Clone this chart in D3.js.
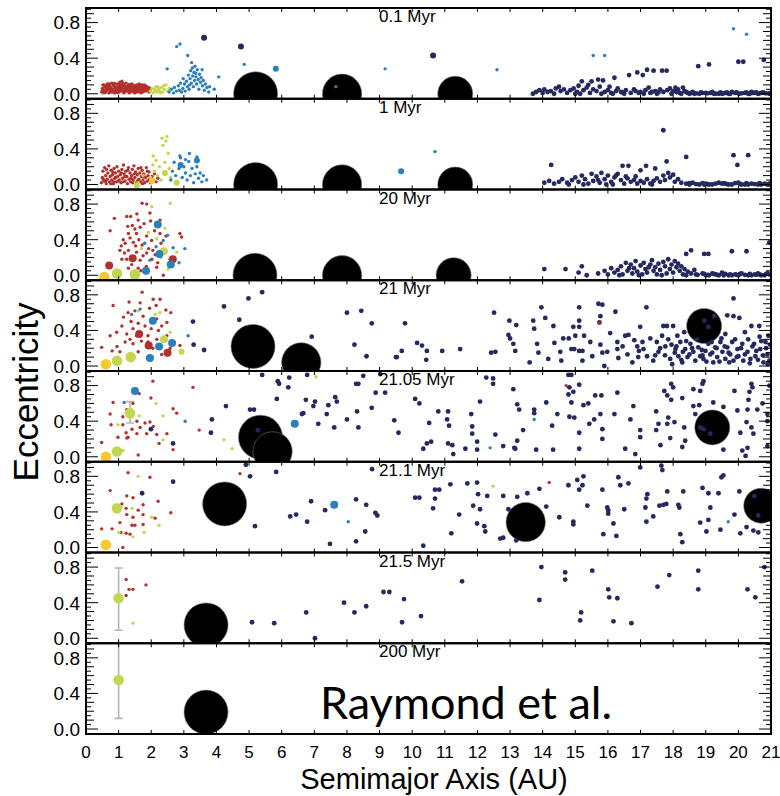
<!DOCTYPE html>
<html>
<head>
<meta charset="utf-8">
<script src="https://d3js.org/d3.v7.min.js"></script>
<style>
  body { margin: 0; background: #fff; }
  text { font-family: "Liberation Sans", Arial, sans-serif; fill: #000; }
</style>
</head>
<body>
<div id="chart"></div>
<script>
// ---------------- data (semimajor axis in AU, eccentricity) ----------------
const panelLabels = ["0.1 Myr", "1 Myr", "20 Myr", "21 Myr", "21.05 Myr", "21.1 Myr", "21.5 Myr", "200 Myr"];
const xTickLabels = [0, 1, 2, 3, 4, 5, 6, 7, 8, 9, 10, 11, 12, 13, 14, 15, 16, 17, 18, 19, 20, 21];
const eTickLabels = [0.0, 0.4, 0.8];

// giant planets: [a, e, mass in Jupiter masses]
const giants1 = [[5.2, 0, 1], [7.85, 0, 0.3], [11.32, 0, 0.1]];
const giants2 = [[5.2, 0, 1], [7.85, 0, 0.3], [11.32, 0, 0.1]];
const giants3 = [[5.18, 0, 1], [7.85, 0, 0.3], [11.27, 0, 0.1]];
const giants4 = [[5.12, 0.22, 1], [6.6, 0.04, 0.3], [18.95, 0.45, 0.1]];
const giants5 = [[5.35, 0.22, 1], [5.72, 0.06, 0.3], [19.2, 0.33, 0.1]];
const giants6 = [[4.25, 0.49, 1], [13.48, 0.285, 0.3], [20.7, 0.47, 0.1]];
const giants7 = [[3.68, 0.15, 1]];
const giants8 = [[3.68, 0.19, 1]];

// embryos: [a, e, population, mass class]
const embryos1 = [[5.82, 0.28, "b", 2], [3.62, 0.63, "n", 2], [4.75, 0.53, "n", 2], [10.64, 0.43, "n", 2]];
const embryos2 = [[9.66, 0.15, "b", 2], [3.4, 0.27, "b", 2], [2.9, 0.22, "b", 2], [2.02, 0.04, "y", 2],
  [1.56, -0.01, "g", 2], [2.78, 0.02, "g", 2], [2.42, 0.13, "g", 2]];
const embryos3 = [[0.71, 0.11, "r", 3], [1.43, 0.19, "r", 3], [2.66, 0.18, "r", 3], [2.39, 0.27, "g", 3],
  [2.2, 0.57, "b", 3], [2.25, 0.24, "b", 3], [2.6, 0.12, "b", 3], [1.84, 0.05, "b", 3],
  [0.56, -0.02, "y", 4], [0.95, 0.02, "g", 4], [1.5, 0.01, "g", 4]];
const embryos4 = [[2.93, 0.16, "g", 2], [1.63, 0.36, "r", 3], [1.92, 0.23, "r", 3], [2.5, 0.15, "r", 3],
  [2.39, 0.3, "g", 3], [2.05, 0.51, "b", 3], [2.64, 0.26, "b", 3], [2.24, 0.22, "b", 3], [1.96, 0.09, "b", 3],
  [0.61, 0.02, "y", 4], [0.95, 0.06, "g", 4], [1.37, 0.1, "g", 4]];
const embryos5 = [[1.5, 0.74, "b", 3], [6.4, 0.37, "b", 3], [0.61, 0.0, "y", 4], [0.95, 0.06, "g", 4], [1.35, 0.49, "g", 4]];
const embryos6 = [[7.61, 0.48, "b", 3], [0.61, 0.03, "y", 4], [0.95, 0.44, "g", 4]];
const embryos7 = [[1.0, 0.45, "g", 4]];
const embryos8 = [[1.0, 0.55, "g", 4]];

// eccentricity ranges: [a, eLow, eHigh]
const bars5 = [[1.35, 0.38, 0.62]];
const bars7 = [[1.0, 0.09, 0.79]];
const bars8 = [[1.0, 0.12, 1.0]];

// planetesimals, 0.1 Myr
const red1 = [[0.48,0.02],[0.5,0.06],[0.52,0.1],[0.55,0.01],[0.58,0.04],[0.6,0.08],[0.63,0.03],[0.65,0.11],[0.67,0.06],
  [0.7,0.01],[0.72,0.09],[0.74,0.04],[0.77,0.07],[0.79,0.12],[0.81,0.02],[0.84,0.05],[0.86,0.09],[0.88,0.01],[0.9,0.07],
  [0.93,0.03],[0.95,0.11],[0.97,0.05],[1.0,0.08],[1.02,0.02],[1.04,0.13],[1.06,0.06],[1.09,0.1],[1.11,0.03],[1.13,0.07],
  [1.16,0.01],[1.18,0.09],[1.2,0.05],[1.23,0.12],[1.25,0.03],[1.27,0.07],[1.3,0.1],[1.32,0.01],[1.34,0.05],[1.37,0.08],
  [1.39,0.03],[1.41,0.11],[1.44,0.06],[1.46,0.02],[1.48,0.09],[1.51,0.04],[1.53,0.07],[1.55,0.1],[1.58,0.02],[1.6,0.06],
  [1.62,0.09],[1.65,0.03],[1.67,0.07],[1.7,0.05],[1.72,0.1],[1.75,0.02],[1.77,0.06],[1.8,0.08],[1.83,0.03],[1.86,0.05],
  [1.9,0.07],[1.93,0.02],[1.97,0.04],[0.53,0.04],[0.62,0.06],[0.75,0.02],[0.83,0.1],[0.92,0.05],[1.05,0.04],[1.15,0.05],
  [1.28,0.04],[1.36,0.02],[1.45,0.08],[1.57,0.05],[1.68,0.01],[1.78,0.04],[0.69,0.05],[0.98,0.02],[1.22,0.08],[1.5,0.01],
  [1.63,0.11],[1.1,0.14],[0.57,0.08],[0.85,0.03],[1.4,0.04],[1.73,0.07],
  [0.51,0.035],[0.59,0.015],[0.66,0.085],[0.73,0.065],[0.8,0.045],[0.87,0.115],[0.94,0.075],[1.01,0.105],[1.07,0.085],
  [1.14,0.115],[1.21,0.025],[1.29,0.065],[1.35,0.105],[1.42,0.045],[1.49,0.065],[1.56,0.085],[1.64,0.045],[1.71,0.025],
  [1.79,0.1],[1.85,0.085],[1.91,0.045],[0.56,0.095],[0.71,0.11],[0.96,0.015],[1.19,0.035],[1.33,0.085],[1.54,0.03],
  [1.69,0.095],[1.81,0.055],[1.95,0.065]];
const green1 = [[1.97,0.03],[2.02,0.06],[2.06,0.01],[2.1,0.05],[2.14,0.08],[2.18,0.02],[2.22,0.05],[2.26,0.03],[2.3,0.07],
  [2.35,0.02],[2.4,0.05],[2.45,0.1],[2.5,0.03],[2.55,0.06],[2.12,0.03],[2.28,0.01],[2.38,0.09],[2.2,0.08]];
const blue1 = [[2.55,0.02],[2.62,0.05],[2.68,0.01],[2.71,0.07],[2.77,0.03],[2.83,0.09],[2.86,0.04],[2.93,0.02],[2.97,0.06],
  [3.02,0.11],[3.04,0.03],[3.08,0.14],[3.11,0.08],[3.14,0.21],[3.16,0.05],[3.19,0.17],[3.21,0.26],[3.23,0.12],[3.26,0.29],
  [3.27,0.2],[3.29,0.08],[3.31,0.24],[3.33,0.15],[3.34,0.31],[3.37,0.19],[3.39,0.11],[3.41,0.27],[3.44,0.16],[3.46,0.05],
  [3.48,0.22],[3.51,0.13],[3.53,0.18],[3.57,0.09],[3.6,0.15],[3.63,0.04],[3.66,0.11],[3.71,0.07],[3.76,0.02],[3.79,0.08],
  [3.24,0.35],[3.12,0.43],[2.78,0.53],[2.88,0.56],[2.49,0.28],[3.56,0.27],[4.07,0.19],[3.93,0.05],[4.85,0.33],[7.66,0.08],
  [9.17,0.28],[12.6,0.27],[15.55,0.43],[15.9,0.43],[19.85,0.73],[20.25,0.67],[2.98,0.17],[3.36,0.23],[3.18,0.1],[2.9,0.12]];
const navy1 = [[13.7,0.0],[13.8,0.02],[13.9,0.04],[14.0,0.01],[14.05,0.05],[14.15,0.02],[14.25,0.03],[14.35,0.0],[14.5,0.08],
  [14.55,0.03],[14.65,0.05],[14.75,0.01],[14.85,0.04],[14.95,0.06],[15.05,0.02],[15.1,0.09],[15.2,0.14],[15.25,0.04],
  [15.35,0.07],[15.45,0.01],[15.5,0.14],[15.55,0.05],[15.65,0.03],[15.7,0.16],[15.75,0.08],[15.85,0.15],[15.9,0.02],
  [16.0,0.04],[16.1,0.01],[16.2,0.18],[16.25,0.03],[16.4,0.02],[16.55,0.04],[16.65,0.21],[16.7,0.01],[16.85,0.03],
  [16.9,0.24],[17.0,0.02],[17.07,0.21],[17.15,0.04],[17.2,0.27],[17.3,0.01],[17.4,0.26],[17.45,0.03],[17.6,0.05],
  [17.66,0.26],[17.7,0.02],[17.8,0.26],[17.82,0.04],[17.9,0.06],[18.0,0.03],[18.07,0.07],[18.15,0.05],[18.2,0.01],
  [18.3,0.07],[18.35,0.03],[18.45,0.01],[18.6,0.02],[18.77,0.31],[18.8,0.0],[19.0,0.01],[19.1,0.33],[19.2,0.02],
  [19.4,0.0],[19.6,0.01],[19.8,0.02],[20.0,0.36],[20.02,0.0],[20.15,0.36],[20.2,0.01],[20.4,0.02],[20.6,0.0],
  [20.78,0.38],[20.8,0.01],[20.95,0.0],[16.3,0.06],[16.8,0.05],[15.0,0.0],[15.8,0.0],[16.5,0.0],[17.5,0.0],[18.5,0.0],
  [19.3,0.0],[19.9,0.01],[20.5,0.01],[14.4,0.06],[17.25,0.07],[15.4,0.1],[16.05,0.08],[18.9,0.01],
  [19.5,0.0],[20.3,0.0],[20.7,0.01],[18.65,0.0],[19.7,0.0],[17.35,0.02],[16.15,0.0],[15.15,0.0],
  [18.55,0.01],[18.7,0.005],[18.85,0.015],[19.05,0.005],[19.15,0.01],[19.25,0.0],[19.45,0.015],[19.55,0.005],
  [19.65,0.015],[19.75,0.0],[19.95,0.015],[20.1,0.005],[20.25,0.015],[20.35,0.0],[20.45,0.01],[20.55,0.015],
  [20.65,0.005],[20.75,0.015],[20.85,0.005],[20.98,0.01],[17.55,0.015],[17.95,0.0],[18.1,0.02],[18.25,0.0],[18.4,0.02],
  [16.45,0.015],[16.95,0.01],[17.1,0.0]];

// planetesimals, 1 Myr
const red2 = [[0.47,0.02],[0.5,0.08],[0.52,0.15],[0.55,0.04],[0.57,0.19],[0.6,0.1],[0.62,0.01],[0.65,0.06],[0.67,0.13],
  [0.7,0.21],[0.72,0.03],[0.74,0.09],[0.77,0.16],[0.79,0.05],[0.81,0.11],[0.84,0.01],[0.86,0.18],[0.88,0.07],[0.9,0.13],
  [0.93,0.03],[0.95,0.2],[0.97,0.09],[1.0,0.15],[1.02,0.05],[1.05,0.11],[1.07,0.02],[1.1,0.17],[1.12,0.07],[1.15,0.22],
  [1.17,0.12],[1.2,0.04],[1.22,0.15],[1.25,0.09],[1.27,0.01],[1.3,0.19],[1.32,0.06],[1.35,0.13],[1.37,0.03],[1.4,0.1],
  [1.42,0.17],[1.45,0.05],[1.47,0.21],[1.5,0.08],[1.52,0.14],[1.55,0.02],[1.57,0.11],[1.6,0.18],[1.62,0.06],[1.65,0.13],
  [1.67,0.03],[1.7,0.09],[1.72,0.16],[1.75,0.05],[1.77,0.12],[1.8,0.02],[1.83,0.08],[1.85,0.19],[1.88,0.04],[1.9,0.1],
  [1.93,0.14],[1.95,0.06],[1.98,0.02],[2.02,0.09],[2.06,0.05],[2.1,0.12],[2.15,0.03],[2.2,0.07],[0.53,0.06],[0.63,0.17],
  [0.76,0.01],[0.82,0.14],[0.91,0.08],[0.99,0.04],[1.08,0.13],[1.19,0.09],[1.28,0.16],[1.38,0.07],[1.48,0.12],
  [1.58,0.04],[1.68,0.19],[1.78,0.09],[1.88,0.15],[0.6,0.04],[0.85,0.03],[1.13,0.03],[1.43,0.02],[1.73,0.01]];
const green2 = [[2.33,0.52],[2.48,0.54],[2.45,0.49],[2.06,0.32],[2.36,0.44],[2.52,0.35],[1.98,0.08],[2.1,0.15],[2.2,0.1],
  [2.25,0.2],[2.3,0.05],[2.4,0.12],[2.42,0.25],[2.55,0.18],[2.6,0.08],[2.05,0.22],[2.15,0.27],[1.6,0.02],[1.75,0.1]];
const blue2 = [[2.6,0.05],[2.65,0.15],[2.7,0.25],[2.75,0.1],[2.8,0.02],[2.85,0.18],[2.9,0.3],[2.95,0.08],[3.0,0.2],
  [3.05,0.13],[3.1,0.05],[3.15,0.26],[3.2,0.1],[3.25,0.18],[3.3,0.02],[3.35,0.12],[3.4,0.2],[3.45,0.07],[3.5,0.13],
  [3.55,0.03],[3.6,0.1],[3.7,0.05],[2.88,0.32],[3.17,0.35],[10.7,0.37],[3.4,0.31],[3.05,0.28]];
const navy2 = [[17.7,0.61],[18.4,0.31],[19.85,0.33],[20.3,0.33],[19.97,0.22],[14.26,0.22],[16.45,0.21],[16.63,0.21],
  [17.0,0.16],[17.17,0.21],[17.45,0.18],[17.8,0.26],
  [14.05,0.02],[14.2,0.04],[14.35,0.01],[14.5,0.03],[14.6,0.06],[14.75,0.02],[14.9,0.05],[15.0,0.08],[15.1,0.03],
  [15.2,0.1],[15.3,0.06],[15.4,0.01],[15.5,0.12],[15.55,0.04],[15.65,0.09],[15.75,0.02],[15.8,0.13],[15.9,0.06],
  [16.0,0.1],[16.1,0.03],[16.2,0.08],[16.3,0.12],[16.4,0.05],[16.5,0.01],[16.6,0.07],[16.7,0.03],[16.8,0.05],[16.9,0.01],
  [17.0,0.04],[17.1,0.02],[17.2,0.06],[17.3,0.01],[17.4,0.04],[17.5,0.07],[17.6,0.03],[17.7,0.1],[17.75,0.05],
  [17.85,0.13],[17.9,0.08],[18.0,0.11],[18.05,0.03],[18.15,0.06],[18.25,0.02],[18.4,0.01],[18.6,0.02],[18.8,0.0],
  [19.0,0.01],[19.2,0.0],[19.4,0.02],[19.6,0.01],[19.8,0.0],[20.0,0.02],[20.2,0.0],[20.4,0.01],[20.6,0.0],[20.8,0.01],
  [20.95,0.0],[15.25,0.0],[15.95,0.0],[16.55,0.09],[17.35,0.0],[18.5,0.0],[19.1,0.0],[19.7,0.0],[20.3,0.0],[20.9,0.0],
  [15.7,0.05],[16.15,0.0],[16.85,0.09],[14.8,0.0],[18.95,0.0],[19.5,0.01],[20.1,0.0],[20.7,0.0],[16.25,0.1],
  [18.5,0.015],[18.7,0.005],[18.9,0.015],[19.05,0.005],[19.3,0.01],[19.55,0.015],[19.65,0.005],[19.9,0.015],
  [20.05,0.005],[20.25,0.015],[20.5,0.005],[20.65,0.015],[20.85,0.005],[20.98,0.015]];

// planetesimals, 20 Myr
const red3 = [[1.72,0.81],[1.86,0.8],[1.25,0.66],[1.37,0.66],[1.56,0.69],[0.87,0.64],[1.6,0.62],[1.96,0.7],[2.27,0.62],
  [0.74,0.5],[1.42,0.56],[1.66,0.54],[1.3,0.47],[1.55,0.47],[1.86,0.44],[1.14,0.4],[1.45,0.37],[1.72,0.34],[2.01,0.39],
  [2.27,0.47],[2.88,0.47],[2.93,0.43],[1.04,0.28],[1.3,0.28],[1.55,0.26],[1.86,0.25],[1.1,0.18],[1.25,0.18],[1.66,0.17],
  [2.02,0.18],[2.58,0.18],[1.3,0.08],[1.6,0.08],[2.17,0.09],[2.37,0.0],[0.95,0.03],[1.2,0.36],[1.5,0.52],[1.78,0.58],
  [2.1,0.5],[1.35,0.42],[1.62,0.4],[1.92,0.3],[2.12,0.23],[1.18,0.25],[1.48,0.2],[1.75,0.22],[2.3,0.36],[1.4,0.12],
  [1.85,0.1],[2.05,0.28],[1.52,0.33],[1.08,0.33],[2.2,0.14],[1.68,0.05],[1.98,0.61],[1.28,0.55],[2.45,0.44]];
const green3 = [[2.02,0.77],[2.58,0.81],[2.42,0.53],[2.17,0.41],[2.78,0.26],[1.92,0.48],[2.3,0.2],[1.7,0.3],[2.52,0.07]];
const blue3 = [[3.03,0.3],[2.67,0.31],[1.96,0.17],[2.37,0.39],[2.5,0.45],[2.15,0.32],[2.85,0.14],[1.8,0.36]];
const navy3 = [[14.05,0.07],[14.7,0.07],[15.1,0.03],[15.2,0.1],[15.35,0.0],[18.4,0.24],[18.55,0.28],[18.95,0.24],
  [19.08,0.24],[19.8,0.27],[20.25,0.27],[20.95,0.37],
  [15.7,0.02],[15.9,0.05],[16.0,0.01],[16.1,0.08],[16.2,0.03],[16.3,0.06],[16.4,0.1],[16.45,0.01],[16.55,0.14],
  [16.6,0.05],[16.7,0.12],[16.75,0.02],[16.8,0.08],[16.85,0.16],[16.9,0.04],[17.0,0.11],[17.05,0.01],[17.1,0.14],
  [17.15,0.07],[17.2,0.03],[17.3,0.12],[17.35,0.17],[17.4,0.05],[17.45,0.09],[17.5,0.01],[17.55,0.13],[17.6,0.06],
  [17.7,0.15],[17.75,0.1],[17.8,0.02],[17.85,0.18],[17.9,0.07],[17.95,0.12],[18.0,0.03],[18.05,0.16],[18.1,0.09],
  [18.15,0.13],[18.2,0.05],[18.25,0.1],[18.3,0.01],[18.35,0.07],[18.45,0.04],[18.55,0.02],[18.7,0.01],[18.9,0.02],
  [19.1,0.0],[19.3,0.01],[19.5,0.03],[19.7,0.0],[19.9,0.01],[20.1,0.02],[20.3,0.0],[20.5,0.01],[20.7,0.0],[20.9,0.02],
  [16.35,0.0],[16.95,0.0],[17.65,0.0],[18.4,0.0],[19.2,0.02],[19.8,0.0],[20.6,0.02],[17.25,0.09],[16.65,0.08],
  [18.65,0.06],[19.55,0.0],[20.8,0.0],[19.0,0.0],[19.4,0.0],[20.0,0.0],[20.4,0.0],
  [18.75,0.005],[18.95,0.015],[19.05,0.005],[19.25,0.015],[19.35,0.005],[19.6,0.015],[19.75,0.01],[19.95,0.005],
  [20.05,0.015],[20.2,0.005],[20.35,0.015],[20.55,0.005],[20.65,0.01],[20.85,0.015],[20.98,0.005]];

// planetesimals, 21 Myr
const red4 = [[1.72,0.83],[0.83,0.68],[1.32,0.72],[1.66,0.71],[2.06,0.75],[2.27,0.75],[2.15,0.68],[2.45,0.63],[1.29,0.6],
  [1.75,0.56],[2.17,0.53],[2.48,0.49],[1.1,0.45],[1.44,0.42],[1.81,0.45],[2.32,0.45],[0.94,0.38],[1.25,0.36],[1.55,0.34],
  [1.9,0.34],[2.48,0.34],[0.74,0.34],[1.2,0.27],[1.44,0.25],[1.9,0.27],[2.17,0.3],[2.88,0.23],[0.8,0.17],[1.04,0.16],
  [1.6,0.16],[2.32,0.13],[0.48,0.21],[2.58,0.2],[1.38,0.5],[1.6,0.48],[2.0,0.42],[1.15,0.55],[1.95,0.65],[2.22,0.4],
  [1.7,0.28],[1.35,0.3],[2.05,0.2],[0.95,0.22],[1.5,0.62],[2.6,0.6],[15.74,0.48]];
const green4 = [[2.12,0.58],[2.27,0.6],[1.6,0.62],[2.58,0.38]];
const blue4 = [[3.13,0.34],[1.66,0.64],[1.4,0.58]];
const navy4 = [[3.28,0.5],[3.3,0.24],[3.62,0.18],[4.23,0.67],[4.7,0.52],[4.98,0.76],[5.4,0.83],[6.92,0.33],[8.0,0.6],
  [8.44,0.62],[8.76,0.48],[8.23,0.24],[8.6,0.11],[9.53,0.1],
  [9.78,0.48],[9.5,0.1],[9.68,0.17],[10.15,0.26],[10.3,0.23],[10.45,0.17],[10.43,0.07],[10.92,0.17],[11.47,0.19],
  [12.42,0.15],[12.55,0.16],[12.51,0.6],[12.98,0.51],[13.19,0.46],[12.95,0.35],[13.0,0.31],[13.1,0.25],[13.16,0.17],
  [13.6,0.04],[13.71,0.51],[13.74,0.42],[13.96,0.66],[14.08,0.54],[13.83,0.25],[13.87,0.15],[14.17,0.08],[14.33,0.45],
  [14.36,0.26],[14.54,0.16],[14.57,0.06],[14.63,0.31],[14.8,0.31],[14.88,0.19],[14.94,0.44],[14.97,0.19],[15.0,0.34],
  [15.12,0.66],[15.12,0.51],[15.12,0.17],[15.22,0.17],[15.22,0.06],[15.12,0.44],[15.27,0.34],[15.46,0.27],[15.52,0.11],
  [15.71,0.7],[15.83,0.69],[15.77,0.56],[15.74,0.49],[15.77,0.24],[15.83,0.15],[15.89,0.0],[15.98,0.16],[16.07,0.37],
  [16.23,0.61],[16.29,0.27],[16.29,0.19],[16.32,0.09],[16.53,0.34],[16.63,0.35],[16.6,0.13],[16.75,0.04],[16.81,0.29],
  [16.9,0.22],[16.93,0.1],[16.99,0.44],[17.06,0.27],[17.18,0.66],[17.09,0.19],[17.2,0.11],[17.3,0.31],[17.39,0.06],
  [17.5,0.27],[17.55,0.16],[17.66,0.34],[17.7,0.45],[17.81,0.45],[17.76,0.22],[17.85,0.3],[17.91,0.08],[17.97,0.02],
  [18.0,0.45],[18.07,0.19],[18.13,0.34],[18.16,0.11],[18.22,0.27],[18.28,0.04],[18.34,0.38],[18.37,0.19],[18.44,0.1],
  [18.53,0.25],[18.62,0.16],[18.68,0.06],[18.77,0.21],[18.83,0.11],[18.93,0.08],[18.99,0.17],[19.08,0.25],[19.14,0.13],
  [19.23,0.04],[19.29,0.21],[19.35,0.1],[19.45,0.27],[19.51,0.16],[19.6,0.08],[19.66,0.21],[19.75,0.13],[19.81,0.27],
  [19.85,0.06],[19.97,0.19],[20.0,0.11],[20.12,0.25],[20.15,0.06],[20.28,0.16],[20.37,0.08],[20.4,0.45],[20.43,0.22],
  [20.52,0.11],[20.64,0.45],[20.67,0.19],[20.77,0.04],[20.83,0.27],[20.89,0.13],[20.92,0.34],[20.95,0.06],
  [19.85,0.76],[19.66,0.57],[19.85,0.56],[20.03,0.54],[19.26,0.56],[19.08,0.44],[18.96,0.51],
  [17.6,0.2],[17.75,0.12],[17.95,0.24],[18.05,0.15],[18.25,0.07],[18.4,0.28],[18.5,0.13],[18.58,0.2],[18.72,0.3],
  [18.88,0.18],[19.02,0.05],[19.18,0.27],[19.2,0.15],[19.33,0.2],[19.42,0.05],[19.48,0.31],[19.58,0.22],[19.7,0.15],
  [19.72,0.04],[19.9,0.3],[19.95,0.1],[20.08,0.2],[20.2,0.13],[20.3,0.3],[20.35,0.03],[20.48,0.25],[20.55,0.17],
  [20.6,0.07],[20.7,0.28],[20.75,0.12],[20.85,0.2],[20.9,0.02],[20.97,0.24],[18.1,0.22],[18.9,0.12],[19.6,0.36],
  [20.2,0.38],[17.45,0.12],[16.95,0.17],[16.45,0.22],[20.65,0.33],[18.3,0.16]];

// planetesimals, 21.05 Myr
const red5 = [[2.05,0.85],[3.28,0.78],[1.63,0.71],[1.99,0.66],[0.83,0.61],[1.44,0.6],[1.25,0.53],[0.74,0.48],[1.13,0.45],
  [1.56,0.4],[1.81,0.38],[1.96,0.39],[0.77,0.36],[1.13,0.36],[1.41,0.31],[1.66,0.33],[2.06,0.34],[1.23,0.27],[1.56,0.26],
  [1.86,0.26],[2.17,0.25],[2.48,0.26],[1.29,0.22],[1.25,0.21],[0.98,0.22],[0.48,0.16],[2.24,0.15],[2.67,0.08],
  [1.6,0.02],[2.67,0.54],[2.78,0.49],[3.47,0.3],[14.72,0.8]];
const green5 = [[1.63,0.46],[2.15,0.6],[2.36,0.46],[0.98,0.36],[2.36,0.19],[4.23,0.19],[4.48,0.09],[1.13,0.07],[7.05,0.9]];
const blue5 = [[1.17,0.61],[3.04,0.4],[13.74,0.42],[12.39,0.1]];
const navy5 = [[1.99,0.31],[2.67,0.15],[3.86,0.42],[3.83,0.27],[4.29,0.57],[5.03,0.53],[5.15,0.53],[5.27,0.3],[5.4,0.92],
  [5.88,0.85],[5.92,0.82],[5.85,0.65],[6.2,0.78],[6.23,0.89],[6.62,0.48],[6.66,0.49],[6.74,0.64],[6.78,0.92],[6.97,0.57],
  [7.02,0.62],[7.12,0.37],[7.43,0.58],[7.38,0.48],[7.64,0.67],[7.69,0.62],[7.61,0.33],[8.0,0.42],[8.28,0.82],[8.35,0.82],
  [8.31,0.51],[8.35,0.33],[8.5,0.91],[8.76,0.55],[8.88,0.72],[9.02,0.93],[9.45,0.41],[9.58,0.27],
  [9.17,0.72],[10.09,0.65],[10.22,0.6],[10.34,0.09],[10.45,0.15],[10.58,0.17],[10.52,0.38],[10.8,0.51],[11.1,0.51],
  [11.07,0.42],[11.13,0.35],[11.1,0.15],[11.23,0.13],[11.26,0.03],[11.63,0.09],[11.81,0.48],[11.84,0.34],[11.84,0.26],
  [11.99,0.17],[11.99,0.08],[12.08,0.62],[12.27,0.89],[12.48,0.88],[12.48,0.82],[12.55,0.25],[12.79,0.12],[13.1,0.76],
  [13.13,0.1],[13.16,0.09],[13.22,0.18],[13.22,0.59],[13.28,0.53],[13.4,0.3],[13.74,0.53],[13.74,0.49],[13.8,0.08],
  [14.11,0.61],[14.29,0.35],[14.32,0.08],[14.45,0.48],[14.79,0.92],[14.88,0.92],[14.82,0.78],[14.79,0.7],[14.94,0.73],
  [14.88,0.61],[14.82,0.45],[14.97,0.44],[15.12,0.27],[15.12,0.09],[15.12,0.81],[15.25,0.58],[15.4,0.6],[15.43,0.37],
  [15.61,0.69],[15.58,0.42],[15.8,0.69],[15.77,0.48],[15.83,0.31],[15.83,0.2],[16.2,0.48],[16.29,0.72],[16.53,0.09],
  [16.69,0.42],[16.78,0.57],[16.84,0.03],[16.99,0.3],[16.99,0.22],[17.48,0.3],[17.48,0.51],[17.55,0.37],[17.61,0.13],
  [17.73,0.74],[17.82,0.37],[17.82,0.69],[17.85,0.44],[17.91,0.21],[17.94,0.82],[18.0,0.78],[17.94,0.64],[18.04,0.39],
  [18.28,0.11],[18.28,0.66],[18.34,0.33],[18.37,0.18],[18.62,0.57],[18.62,0.76],[18.68,0.48],[18.83,0.74],[18.9,0.82],
  [18.8,0.58],[18.93,0.85],[18.83,0.33],[18.93,0.31],[19.14,0.26],[19.23,0.61],[19.54,0.56],[19.54,0.08],[19.88,0.74],
  [19.97,0.52],[20.06,0.27],[20.12,0.07],[20.22,0.01],[20.25,0.39],[20.28,0.1],[20.28,0.53],[20.31,0.64],[20.4,0.33],
  [20.34,0.73],[20.4,0.82],[20.43,0.78],[20.46,0.26],[20.58,0.53],[20.74,0.6],[20.89,0.48],[20.89,0.12],[20.89,0.4],
  [20.95,0.8]];

// planetesimals, 21.1 Myr
const red6 = [[1.29,0.84],[0.74,0.64],[1.96,0.79],[1.25,0.58],[1.44,0.56],[1.75,0.48],[1.1,0.49],[2.21,0.52],[1.23,0.44],
  [1.6,0.42],[1.25,0.37],[1.44,0.34],[1.75,0.37],[2.6,0.39],[2.12,0.33],[1.04,0.28],[1.41,0.25],[1.5,0.25],[1.75,0.26],
  [0.48,0.21],[0.8,0.21],[1.07,0.17],[1.23,0.16],[1.35,0.15],[1.13,0.0],[4.72,0.83],[14.2,0.73]];
const green6 = [[1.6,0.8],[1.07,0.45],[1.41,0.44],[2.02,0.34],[2.24,0.25],[1.01,0.17],[1.44,0.12],[1.78,0.17],[12.48,0.69]];
const blue6 = [[8.04,0.29],[19.69,0.29]];
const navy6 = [[2.67,0.74],[1.72,0.61],[4.9,0.93],[5.03,0.8],[5.18,0.24],[5.83,0.85],[6.26,0.35],[6.44,0.37],[6.78,0.29],
  [6.9,0.52],[7.33,0.42],[7.48,0.04],[8.28,0.54],[8.59,0.48],[8.87,0.39],[8.93,0.36],[8.56,0.18],[8.28,0.07],[8.77,0.88],
  [16.99,0.9],[17.64,0.92],[17.67,0.87],[19.48,0.79],[19.54,0.81],[15.06,0.76],[15.25,0.8],[16.32,0.79],[16.38,0.7],
  [16.63,0.72],[14.79,0.7],[15.12,0.65],[15.22,0.7],[13.9,0.66],[13.53,0.61],[15.83,0.65],[10.09,0.56],[10.22,0.56],
  [10.7,0.65],[10.83,0.65],[10.7,0.55],[11.17,0.71],[11.69,0.72],[11.99,0.73],[12.02,0.6],[12.3,0.58],[12.79,0.58],
  [13.22,0.57],[10.64,0.44],[11.44,0.37],[11.87,0.47],[12.08,0.43],[11.99,0.27],[12.21,0.24],[12.24,0.18],[11.2,0.16],
  [10.34,0.02],[12.7,0.1],[12.79,0.11],[12.95,0.43],[13.19,0.08],[14.11,0.46],[14.51,0.34],[14.94,0.29],[14.94,0.26],
  [15.37,0.47],[15.86,0.15],[15.98,0.45],[16.01,0.38],[16.01,0.42],[16.17,0.27],[16.26,0.13],[16.5,0.43],[17.18,0.55],
  [17.15,0.45],[17.21,0.6],[17.18,0.29],[17.39,0.35],[17.58,0.47],[17.7,0.48],[17.79,0.49],[17.82,0.63],[18.16,0.48],
  [18.19,0.45],[18.22,0.15],[18.28,0.06],[18.31,0.63],[18.83,0.28],[18.9,0.67],[19.02,0.18],[19.08,0.31],[19.08,0.61],
  [19.14,0.45],[19.39,0.61],[19.45,0.2],[19.88,0.37],[20.06,0.16],[20.03,0.63],[20.25,0.23],[20.46,0.19],[20.61,0.17],
  [20.49,0.58],[20.61,0.36]];

// planetesimals, 21.5 Myr
const red7 = [[1.23,0.66],[1.32,0.55],[1.44,0.55],[1.23,0.48],[1.84,0.6]];
const green7 = [[1.44,0.17]];
const blue7 = [];
const navy7 = [[5.09,0.18],[5.77,0.17],[6.75,0.29],[7.02,0.0],[7.91,0.4],[8.23,0.29],[8.59,0.36],[9.12,0.52],[9.3,0.52],
  [9.69,0.18],[9.75,0.44],[10.27,0.25],[11.53,0.64],[13.9,0.43],[13.96,0.8],[14.69,0.74],[14.69,0.66],[15.18,0.29],
  [15.15,0.2],[15.52,0.76],[16.01,0.55],[16.04,0.46],[16.29,0.45],[16.17,0.19],[16.72,0.17],[17.52,0.58],[17.88,0.71],
  [18.77,0.76],[18.77,0.55],[20.28,0.55],[20.52,0.46],[20.8,0.8]];

// ---------------- assembly ----------------
const panels = [
  { label: panelLabels[0], giants: giants1, red: red1, green: green1, blue: blue1, navy: navy1, embryos: embryos1, bars: [] },
  { label: panelLabels[1], giants: giants2, red: red2, green: green2, blue: blue2, navy: navy2, embryos: embryos2, bars: [] },
  { label: panelLabels[2], giants: giants3, red: red3, green: green3, blue: blue3, navy: navy3, embryos: embryos3, bars: [] },
  { label: panelLabels[3], giants: giants4, red: red4, green: green4, blue: blue4, navy: navy4, embryos: embryos4, bars: [] },
  { label: panelLabels[4], giants: giants5, red: red5, green: green5, blue: blue5, navy: navy5, embryos: embryos5, bars: bars5 },
  { label: panelLabels[5], giants: giants6, red: red6, green: green6, blue: blue6, navy: navy6, embryos: embryos6, bars: [] },
  { label: panelLabels[6], giants: giants7, red: red7, green: green7, blue: blue7, navy: navy7, embryos: embryos7, bars: bars7 },
  { label: panelLabels[7], giants: giants8, red: [], green: [], blue: [], navy: [], embryos: embryos8, bars: bars8 }
];

const popColor = { r: "#b3312b", g: "#c4d650", b: "#2a7fbe", n: "#25295f", y: "#f6c92c" };

const width = 780, height = 796;
const left = 86, right = 771, top0 = 8, panelH = 90.75;

const svg = d3.select("#chart").append("svg")
  .attr("width", width)
  .attr("height", height);

const x = d3.scaleLinear().domain([0, 21]).range([left, right]);
const y = d3.scaleLinear().domain([-0.056, 0.964]).range([panelH, 0]);
const giantR = d3.scaleLog().domain([0.1, 1]).range([17.5, 22]);
const embryoR = d3.scaleOrdinal().domain([2, 3, 4]).range([3, 4, 5.3]);

const defs = svg.append("defs");
defs.append("clipPath").attr("id", "panel-clip")
  .append("rect")
  .attr("x", left).attr("y", 0)
  .attr("width", right - left).attr("height", panelH);

// tick positions on the eccentricity axis, every 0.05
const eTicks = d3.range(0, 20).map(i => i * 0.05);

panels.forEach((p, i) => {
  const g = svg.append("g").attr("transform", `translate(0,${top0 + i * panelH})`);
  const plot = g.append("g").attr("clip-path", "url(#panel-clip)");

  plot.selectAll("circle.giant")
    .data(p.giants)
    .join("circle")
    .attr("class", "giant")
    .attr("cx", d => x(d[0]))
    .attr("cy", d => y(d[1]))
    .attr("r", d => giantR(d[2]))
    .attr("fill", "#000")
    .attr("stroke", "#777")
    .attr("stroke-width", 0.6);

  const bars = plot.selectAll("g.bar").data(p.bars).join("g").attr("class", "bar")
    .attr("stroke", "#b4b4b4").attr("stroke-width", 1.6);
  bars.append("line")
    .attr("x1", d => x(d[0])).attr("x2", d => x(d[0]))
    .attr("y1", d => y(d[1])).attr("y2", d => y(d[2]));
  bars.append("line")
    .attr("x1", d => x(d[0]) - 4).attr("x2", d => x(d[0]) + 4)
    .attr("y1", d => y(d[1])).attr("y2", d => y(d[1]));
  bars.append("line")
    .attr("x1", d => x(d[0]) - 4).attr("x2", d => x(d[0]) + 4)
    .attr("y1", d => y(d[2])).attr("y2", d => y(d[2]));

  const dots = (data, color, r) => {
    plot.append("g").selectAll("circle")
      .data(data)
      .join("circle")
      .attr("cx", d => x(d[0]))
      .attr("cy", d => y(d[1]))
      .attr("r", r)
      .attr("fill", color);
  };
  dots(p.navy, popColor.n, 2.4);
  dots(p.red, popColor.r, 1.7);
  dots(p.green, popColor.g, 1.7);
  dots(p.blue, popColor.b, 1.7);

  plot.append("g").selectAll("circle")
    .data(p.embryos.slice().sort((a, b) => a[3] - b[3]))
    .join("circle")
    .attr("cx", d => x(d[0]))
    .attr("cy", d => y(d[1]))
    .attr("r", d => embryoR(d[3]))
    .attr("fill", d => popColor[d[2]]);

  // ticks
  const tk = g.append("g").attr("stroke", "#000").attr("stroke-width", 1);
  const tickLen = (k) => (k % 8 === 0) ? 12 : (k % 2 === 0) ? 8 : 5;
  eTicks.forEach((v, k) => {
    tk.append("line").attr("x1", left).attr("x2", left + tickLen(k)).attr("y1", y(v)).attr("y2", y(v));
    tk.append("line").attr("x1", right).attr("x2", right - tickLen(k)).attr("y1", y(v)).attr("y2", y(v));
  });
  xTickLabels.forEach(v => {
    tk.append("line").attr("x1", x(v)).attr("x2", x(v)).attr("y1", 0).attr("y2", 4);
    tk.append("line").attr("x1", x(v)).attr("x2", x(v)).attr("y1", panelH).attr("y2", panelH - 4);
  });

  g.append("rect")
    .attr("x", left).attr("y", 0)
    .attr("width", right - left).attr("height", panelH)
    .attr("fill", "none").attr("stroke", "#000").attr("stroke-width", 2);

  g.selectAll("text.elab")
    .data(eTickLabels)
    .join("text")
    .attr("class", "elab")
    .attr("x", left - 6)
    .attr("y", d => y(d))
    .attr("dy", "0.36em")
    .attr("text-anchor", "end")
    .attr("font-size", 19)
    .text(d => d.toFixed(1));

  g.append("text")
    .attr("x", 379).attr("y", 14)
    .attr("font-size", 17)
    .text(p.label);
});

// x tick labels
svg.append("g").selectAll("text")
  .data(xTickLabels)
  .join("text")
  .attr("x", d => x(d))
  .attr("y", 758)
  .attr("text-anchor", "middle")
  .attr("font-size", 17)
  .text(d => d);

svg.append("text")
  .attr("x", 434).attr("y", 789)
  .attr("text-anchor", "middle")
  .attr("font-size", 29)
  .text("Semimajor Axis (AU)");

svg.append("text")
  .attr("transform", "translate(38,392) rotate(-90)")
  .attr("text-anchor", "middle")
  .attr("font-size", 35)
  .text("Eccentricity");

svg.append("text")
  .attr("x", 320).attr("y", 719)
  .style("font-family", "Lato, 'Open Sans', sans-serif")
  .attr("font-size", 45)
  .text("Raymond et al.")
</script>
</body>
</html>
